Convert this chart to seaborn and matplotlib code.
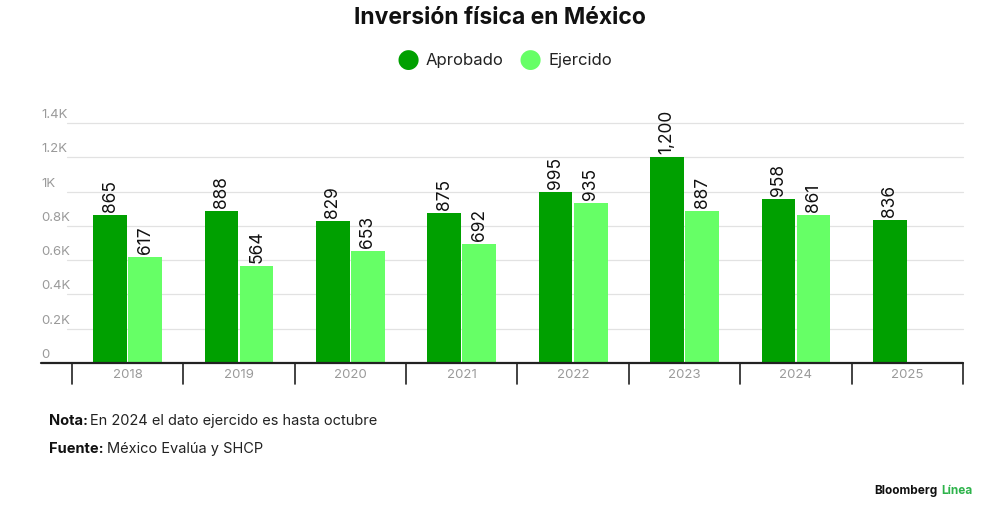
import matplotlib
matplotlib.use("Agg")
import matplotlib.pyplot as plt
import seaborn as sns
import pandas as pd
import numpy as np

years = ["2018", "2019", "2020", "2021", "2022", "2023", "2024", "2025"]
aprobado = [865, 888, 829, 875, 995, 1200, 958, 836]
ejercido = [617, 564, 653, 692, 935, 887, 861, np.nan]
series = ["Aprobado", "Ejercido"]
yticks = [0, 200, 400, 600, 800, 1000, 1200, 1400]
ytick_labels = ["0", "0.2K", "0.4K", "0.6K", "0.8K", "1K", "1.2K", "1.4K"]
colors = {"Aprobado": "#00A000", "Ejercido": "#66FF66"}

df = pd.DataFrame({
    "year": years * 2,
    "serie": [series[0]] * len(years) + [series[1]] * len(years),
    "valor": aprobado + ejercido,
})

sns.set_theme(style="white")
plt.rcParams["font.family"] = ["Inter", "DejaVu Sans"]

fig = plt.figure(figsize=(10, 5.21), dpi=100)
ax = fig.add_axes([0.041, 0.3033, 0.922, 0.4606])

sns.barplot(data=df, x="year", y="valor", hue="serie", order=years,
            hue_order=series, palette=colors, width=0.63, gap=0.04,
            saturation=1, ax=ax, legend=False, errorbar=None, linewidth=0)

ax.set_xlim(-0.778, 7.5)
ax.set_ylim(0, 1400)
for s in ax.spines.values():
    s.set_visible(False)

# gridlines
for yv in yticks[1:]:
    ax.plot([-0.545, 7.5], [yv, yv], color="#e2e2e2", lw=0.9, zorder=0, clip_on=False)
# baseline
ax.plot([-0.778, 7.5], [0, 0], color="#222222", lw=1.6, zorder=3, clip_on=False)
# category separators
for xv in np.arange(-0.5, 8.0, 1.0):
    ax.plot([xv, xv], [0, -125], color="#222222", lw=1.2, clip_on=False, zorder=3)

ax.set_yticks([])
ax.set_xticks([])
ax.set_xlabel("")
ax.set_ylabel("")

# y labels
for yv, lab in zip(yticks, ytick_labels):
    ax.text(-0.778, yv + 12, lab, ha="left", va="bottom", fontsize=9.5,
            color="#9a9a9a", clip_on=False)
# x labels
for i, y in enumerate(years):
    ax.text(i, -68, y, ha="center", va="center", fontsize=9.5, color="#9a9a9a")

# value labels
for cont in ax.containers:
    for bar in cont:
        h = bar.get_height()
        if np.isnan(h) or h == 0:
            continue
        ax.text(bar.get_x() + bar.get_width() / 2, h + 18, f"{h:,.0f}",
                ha="center", va="bottom", rotation=90, fontsize=12.5,
                color="#111111", clip_on=False)

# title
fig.text(0.5, 0.965, "Inversión física en México", ha="center", va="center",
         fontsize=16.5, fontweight="bold", color="#111111")

# legend
for cx, lab, col in [(0.408, "Aprobado", colors["Aprobado"]), (0.530, "Ejercido", colors["Ejercido"])]:
    fig.text(cx, 0.884, "●", ha="center", va="center", fontsize=19, color=col,
             family=["DejaVu Sans"])
    fig.text(cx + 0.018, 0.884, lab, ha="left", va="center", fontsize=12, color="#222222")

# notes
fig.text(0.049, 0.192, "Nota:", ha="left", va="center", fontsize=10.5,
         fontweight="bold", color="#111111")
fig.text(0.090, 0.192, "En 2024 el dato ejercido es hasta octubre", ha="left",
         va="center", fontsize=10.5, color="#222222")
fig.text(0.049, 0.138, "Fuente:", ha="left", va="center", fontsize=10.5,
         fontweight="bold", color="#111111")
fig.text(0.107, 0.138, "México Evalúa y SHCP", ha="left", va="center",
         fontsize=10.5, color="#222222")

# brand
fig.text(0.874, 0.057, "Bloomberg", ha="left", va="center", fontsize=8.5,
         fontweight="bold", color="#111111")
fig.text(0.941, 0.057, "Línea", ha="left", va="center", fontsize=8.5,
         fontweight="bold", color="#2db34a")

fig.savefig("out.png", dpi=100, facecolor="white")
